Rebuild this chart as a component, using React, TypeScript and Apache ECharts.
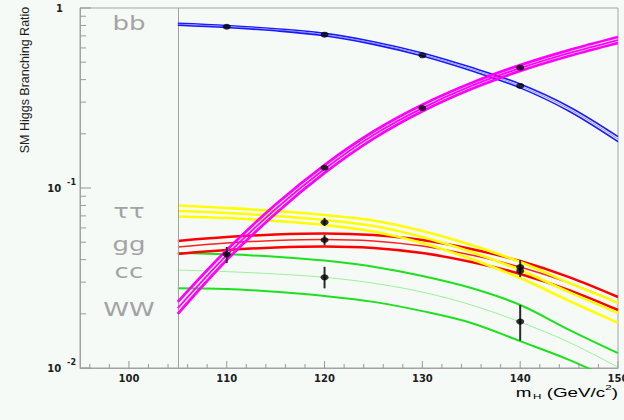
import React, { useEffect, useRef } from 'react';
import * as echarts from 'echarts';

// Higgs mass grid (GeV/c^2)
const masses = [105, 110, 115, 120, 125, 130, 135, 140, 145, 150];

// H -> bb band
const bbCentral = [0.812, 0.789, 0.757, 0.712, 0.639, 0.552, 0.458, 0.369, 0.275, 0.187];
const bbUpper = [0.822, 0.799, 0.767, 0.723, 0.65, 0.563, 0.468, 0.378, 0.283, 0.193];
const bbLower = [0.802, 0.779, 0.747, 0.701, 0.628, 0.541, 0.448, 0.36, 0.267, 0.181];

// H -> WW band
const wwCentral = [0.0215, 0.0424, 0.0764, 0.1275, 0.197, 0.278, 0.369, 0.464, 0.562, 0.664];
const wwUpper = [0.0233, 0.0452, 0.081, 0.1342, 0.206, 0.29, 0.383, 0.482, 0.584, 0.69];
const wwLower = [0.02, 0.0398, 0.0722, 0.1212, 0.188, 0.267, 0.355, 0.447, 0.541, 0.639];

// H -> tau tau band
const tauCentral = [0.0745, 0.0726, 0.0699, 0.0664, 0.0615, 0.0534, 0.0441, 0.035, 0.0264, 0.0202];
const tauUpper = [0.0799, 0.0774, 0.0745, 0.0708, 0.066, 0.0577, 0.0482, 0.0388, 0.0297, 0.023];
const tauLower = [0.0695, 0.0681, 0.0656, 0.0623, 0.0573, 0.0495, 0.0403, 0.0316, 0.0236, 0.0178];

// H -> gg band
const ggCentral = [0.047, 0.0495, 0.0511, 0.0518, 0.0508, 0.0476, 0.0424, 0.0364, 0.0297, 0.023];
const ggUpper = [0.0508, 0.0534, 0.0552, 0.0559, 0.0548, 0.0514, 0.0458, 0.0393, 0.032, 0.0248];
const ggLower = [0.043, 0.0452, 0.0467, 0.0473, 0.0464, 0.0435, 0.0388, 0.0333, 0.0271, 0.021];

// H -> cc band
const ccCentral = [0.035, 0.0343, 0.0333, 0.0319, 0.0296, 0.0264, 0.0224, 0.018, 0.0139, 0.0101];
const ccUpper = [0.0435, 0.0428, 0.0415, 0.0395, 0.0365, 0.0324, 0.0278, 0.0224, 0.0163, 0.0121];
const ccLower = [0.0277, 0.0275, 0.0265, 0.0251, 0.0233, 0.0207, 0.0178, 0.0141, 0.0111, 0.00836];

// measured points [mass, branching ratio]
const bbPoints = [[110, 0.787], [120, 0.711], [130, 0.546], [140, 0.369]];
const wwPoints = [[110, 0.0428], [120, 0.1296], [130, 0.278], [140, 0.466]];
const tauPoints = [[120, 0.0645], [140, 0.0364]];
const ggPoints = [[120, 0.0514], [140, 0.0346]];
const ccPoints = [[120, 0.0319], [140, 0.0181]];

// error bars [mass, low, high]
const errorBars = [
  [110, 0.0383, 0.047],
  [120, 0.0615, 0.0682],
  [120, 0.0482, 0.0548],
  [120, 0.0277, 0.0365],
  [140, 0.032, 0.0398],
  [140, 0.0142, 0.0224],
];

// axis ticks
const xMajorTicks = [100, 110, 120, 130, 140, 150];
const xMinorTicks = [96, 98, 102, 104, 106, 108, 112, 114, 116, 118, 122, 124, 126, 128, 132, 134, 136, 138, 142, 144, 146, 148];
const yMajorTicks = [0.01, 0.1, 1];
const yMinorTicks = [0.02, 0.03, 0.04, 0.05, 0.06, 0.07, 0.08, 0.09, 0.2, 0.3, 0.4, 0.5, 0.6, 0.7, 0.8, 0.9];
const xMin = 95;
const xMax = 150;
const yMin = 0.01;
const yMax = 1;
const dividerMass = 105;

// decay channel labels in the left panel
const panelLabels = ['bb', 'ττ', 'gg', 'cc', 'WW'];
const panelLabelMass = 100;
const panelLabelRatio = [0.82, 0.0741, 0.0486, 0.0344, 0.0212];

const BG = '#f5faf7';
const AXIS = '#a3a3a3';
const TICK = '#999999';

function toXY(arr: number[]) {
  return masses.map((m, i) => [m, arr[i]]);
}

function lineSeries(data: number[], color: string, width: number, z: number, extra: any = {}) {
  return {
    type: 'line',
    data: toXY(data),
    showSymbol: false,
    symbol: 'none',
    smooth: 0.35,
    lineStyle: { color, width },
    z,
    silent: true,
    ...extra,
  };
}

// tick marks as thin rectangle symbols placed through the axes' scales
function tickSeries(values: number[], dir: 'x' | 'y', len: number) {
  return {
    type: 'scatter',
    data: values.map((v) => (dir === 'x' ? [v, yMin] : [xMin, v])),
    symbol: 'rect',
    symbolSize: dir === 'x' ? [1, len] : [len, 1],
    symbolOffset: dir === 'x' ? [0, -len / 2] : [len / 2, 0],
    itemStyle: { color: TICK, opacity: 1 },
    clip: false,
    silent: true,
    z: 11,
  };
}

export default function App() {
  const ref = useRef<HTMLDivElement>(null);

  useEffect(() => {
    if (!ref.current) return;
    const chart = echarts.init(ref.current, undefined, { renderer: 'svg' });

    const series: any[] = [
      // green (cc)
      lineSeries(ccUpper, '#1fe01f', 2, 2),
      lineSeries(ccCentral, '#9cf09c', 1, 2),
      lineSeries(ccLower, '#1fe01f', 2, 2),
      // red (gg)
      lineSeries(ggUpper, '#ff0000', 2.5, 3),
      lineSeries(ggCentral, '#ff2020', 1.5, 3),
      lineSeries(ggLower, '#ff0000', 2.5, 3),
      // yellow (tau tau)
      lineSeries(tauUpper, '#ffff00', 2.6, 4),
      lineSeries(tauCentral, '#ffff00', 2.6, 4),
      lineSeries(tauLower, '#ffff00', 2.6, 4),
      // blue (bb)
      lineSeries(bbUpper, '#1a1aff', 1.6, 5, {
        markLine: {
          silent: true,
          symbol: 'none',
          label: { show: false },
          lineStyle: { color: AXIS, width: 1, type: 'solid' },
          data: [{ xAxis: dividerMass }],
        },
      }),
      lineSeries(bbCentral, '#8c8cff', 1, 5),
      lineSeries(bbLower, '#1a1aff', 1.6, 5),
      // magenta (WW)
      lineSeries(wwUpper, '#ff00ff', 2.8, 6),
      lineSeries(wwCentral, '#ff00ff', 1.8, 6),
      lineSeries(wwLower, '#ff00ff', 2.8, 6),
      // error bars
      {
        type: 'custom',
        data: errorBars,
        encode: { x: 0, y: [1, 2] },
        z: 9,
        silent: true,
        renderItem: (_p: any, api: any) => {
          const x = api.value(0);
          const a = api.coord([x, api.value(1)]);
          const b = api.coord([x, api.value(2)]);
          return {
            type: 'line',
            shape: { x1: a[0], y1: a[1], x2: b[0], y2: b[1] },
            style: { stroke: '#2b2b2b', lineWidth: 2 },
          };
        },
      },
      // measured points
      {
        type: 'scatter',
        data: [...bbPoints, ...wwPoints, ...tauPoints, ...ggPoints, ...ccPoints],
        symbol: 'circle',
        symbolSize: [8, 6],
        itemStyle: { color: '#000000' },
        z: 10,
        silent: true,
      },
      // axis ticks
      tickSeries(xMajorTicks, 'x', 7),
      tickSeries(xMinorTicks, 'x', 4),
      tickSeries(yMajorTicks, 'y', 11),
      tickSeries(yMinorTicks, 'y', 6),
    ];

    const option: any = {
      animation: false,
      backgroundColor: BG,
      grid: {
        left: 80,
        right: 6,
        top: 8,
        bottom: 52,
        show: true,
        borderColor: AXIS,
        borderWidth: 1,
        backgroundColor: 'rgba(0,0,0,0)',
        outerBoundsMode: 'none',
        containLabel: false,
      },
      xAxis: {
        type: 'value',
        min: xMin,
        max: xMax,
        position: 'bottom',
        axisLine: { show: true, lineStyle: { color: AXIS, width: 1 } },
        splitLine: { show: false },
        axisTick: { show: false },
        axisLabel: {
          show: true,
          customValues: xMajorTicks,
          margin: 5,
          alignMaxLabel: 'center',
          alignMinLabel: 'center',
          hideOverlap: false,
          color: '#1e1e1e',
          fontSize: 10,
          fontWeight: 'bold',
          fontFamily: 'DejaVu Sans',
        },
      },
      yAxis: {
        type: 'log',
        logBase: 10,
        min: yMin,
        max: yMax,
        position: 'left',
        axisLine: { show: true, lineStyle: { color: AXIS, width: 1 } },
        splitLine: { show: false },
        axisTick: { show: false },
        axisLabel: {
          show: true,
          margin: 4,
          customValues: yMajorTicks,
          formatter: (v: number) => {
            const e = Math.round(Math.log10(v));
            if (e === 0) return '{b|1}{gap| }';
            return '{b|10}{sup|' + e + '}';
          },
          rich: {
            b: { fontSize: 10, fontWeight: 'bold', fontFamily: 'DejaVu Sans', color: '#1e1e1e' },
            sup: { fontSize: 8, fontWeight: 'bold', fontFamily: 'DejaVu Sans', color: '#1e1e1e', padding: [0, 0, 12, 6] },
            gap: { width: 13, fontSize: 8 },
          },
        },
      },
      series,
    };

    chart.setOption(option);

    const px = (x: number, y: number) =>
      chart.convertToPixel({ xAxisIndex: 0, yAxisIndex: 0 }, [x, y]) as number[];

    const labelEls = panelLabels.map((t, i) => {
      const p = px(panelLabelMass, panelLabelRatio[i]);
      return {
        type: 'text',
        x: p[0],
        y: p[1],
        scaleX: 1.37,
        silent: true,
        z: 20,
        style: {
          text: t,
          font: '19px "DejaVu Sans"',
          fill: '#a3a3a3',
          textAlign: 'center',
          textVerticalAlign: 'middle',
        },
      };
    });

    chart.setOption({
      graphic: {
        elements: [
          ...labelEls,
          {
            type: 'text',
            x: 25,
            y: 80,
            rotation: Math.PI / 2,
            silent: true,
            style: {
              text: 'SM Higgs Branching Ratio',
              font: '12.5px "Liberation Sans"',
              fill: '#1e1e1e',
              textAlign: 'center',
              textVerticalAlign: 'middle',
            },
          },
          {
            type: 'text',
            x: 618,
            y: 392,
            scaleX: 1.45,
            silent: true,
            style: {
              text: '{m|m}{sub|H}{m| (GeV/c}{sup|2}{m|)}',
              textAlign: 'right',
              textVerticalAlign: 'middle',
              rich: {
                m: { fontSize: 13, fontFamily: 'Liberation Sans', color: '#1e1e1e' },
                sub: { fontSize: 8, fontFamily: 'Liberation Sans', color: '#1e1e1e', padding: [9, 0, 0, 1] },
                sup: { fontSize: 8, fontFamily: 'Liberation Sans', color: '#1e1e1e', padding: [0, 0, 9, 0] },
              },
            },
          },
        ],
      },
    });

    return () => {
      chart.dispose();
    };
  }, []);

  return (
    <div
      ref={ref}
      style={{ position: 'fixed', left: 0, top: 0, width: 624, height: 420, background: BG }}
    />
  );
}
